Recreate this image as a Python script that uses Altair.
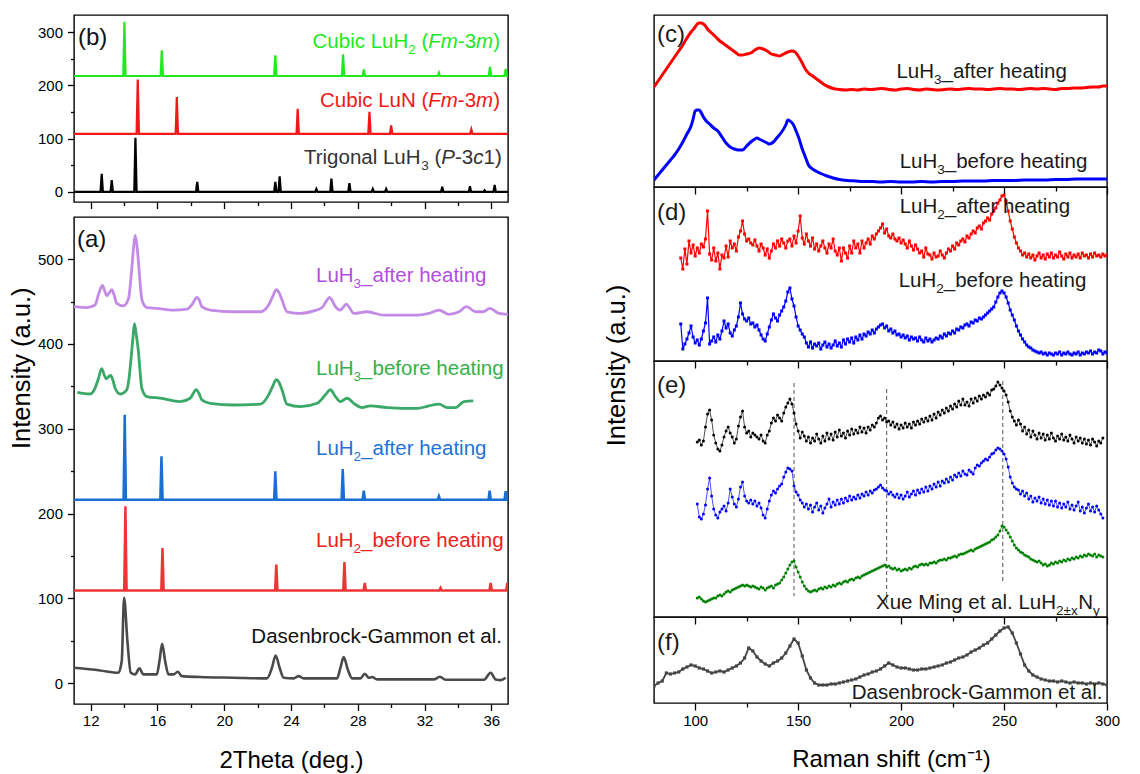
import altair as alt
import pandas as pd

FONT = "Liberation Sans"

# ---------------- (b) reference patterns: peak positions (2theta) and heights ----------------
b_luh2_base = 217.5
b_luh2_pos = [14.02, 16.26, 23.06, 27.12, 28.36, 32.86, 35.92, 36.86]
b_luh2_top = [319.5, 265.8, 256.4, 258.3, 230.0, 223.7, 234.4, 231.0]
b_lun_base = 109.0
b_lun_pos = [14.82, 17.16, 24.40, 28.70, 30.00, 34.80]
b_lun_top = [211.0, 178.0, 156.0, 150.4, 124.8, 117.3]
b_luh3_base = 0.0
b_luh3_pos = [12.66, 13.26, 14.68, 18.38, 23.06, 23.32, 25.52, 26.42, 27.50, 28.90, 29.70, 33.06, 34.72, 35.60, 36.20]
b_luh3_top = [33.8, 22.0, 101.5, 18.8, 18.8, 29.4, 5.6, 25.0, 16.3, 5.6, 5.6, 9.4, 10.6, 3.0, 13.2]

# ---------------- (a) measured XRD ----------------
a_luh2_after_base = 216.3
a_luh2_after_pos = [14.04, 16.24, 23.06, 27.10, 28.36, 32.86, 35.90, 36.86]
a_luh2_after_top = [316.5, 267.5, 249.9, 252.6, 227.1, 220.4, 227.1, 226.3]
a_luh2_before_base = 109.2
a_luh2_before_pos = [14.08, 16.30, 23.12, 27.20, 28.42, 32.96, 35.96, 36.96]
a_luh2_before_top = [208.5, 159.4, 139.7, 142.9, 118.1, 112.2, 118.1, 118.1]

a_luh3_after = [(11.0, 444), (11.76, 443), (12.26, 446), (12.46, 458), (12.7, 469), (12.85, 462),
                (12.96, 457), (13.1, 460), (13.26, 464), (13.4, 458), (13.56, 448), (13.96, 445),
                (14.26, 453), (14.46, 489), (14.56, 512), (14.66, 528), (14.76, 518), (14.86, 497),
                (14.96, 472), (15.06, 453), (15.2, 446), (15.36, 443), (15.96, 442), (16.96, 440),
                (17.76, 441), (18.12, 448), (18.36, 455), (18.5, 452), (18.66, 444), (19.16, 440),
                (20.56, 438), (22.16, 438), (22.66, 446), (22.9, 456), (23.12, 464), (23.3, 460),
                (23.46, 452), (23.76, 438), (24.56, 436), (25.36, 439), (25.86, 443), (26.1, 450),
                (26.32, 455), (26.5, 450), (26.66, 444), (26.96, 440), (27.15, 444), (27.32, 447),
                (27.5, 443), (27.76, 436), (28.56, 438), (29.56, 434), (31.56, 434), (32.26, 436),
                (32.86, 440), (33.46, 435), (34.06, 438), (34.52, 444), (35.06, 438), (35.5, 438),
                (35.92, 442), (36.46, 436), (37.0, 435)]
a_luh3_before = [(11.2, 343), (11.96, 341), (12.26, 348), (12.46, 359), (12.66, 371), (12.8, 364),
                 (12.92, 359), (13.05, 361), (13.2, 363), (13.35, 356), (13.46, 348), (13.76, 341),
                 (14.16, 346), (14.3, 360), (14.4, 379), (14.52, 405), (14.62, 424), (14.72, 412),
                 (14.86, 391), (14.96, 367), (15.06, 348), (15.36, 338), (16.16, 336), (17.36, 332),
                 (17.96, 336), (18.32, 346), (18.5, 341), (18.66, 334), (19.16, 330), (20.56, 328),
                 (22.16, 329), (22.66, 340), (22.9, 350), (23.12, 358), (23.3, 354), (23.46, 346),
                 (23.76, 329), (24.56, 326), (25.56, 330), (26.06, 340), (26.36, 346), (26.66, 338),
                 (26.96, 332), (27.36, 336), (27.76, 330), (28.26, 325), (28.76, 327), (29.76, 325),
                 (31.56, 324), (32.26, 327), (32.86, 329), (33.36, 325), (33.86, 325), (34.36, 332),
                 (34.92, 333)]
a_dasen = [(11.0, 18), (12.56, 14.9), (13.66, 12.2), (13.86, 26), (14.0, 100.5), (14.2, 49.4),
           (14.4, 12.2), (14.66, 10.2), (14.92, 17.3), (15.16, 10.2), (15.96, 10.2), (16.12, 26),
           (16.28, 46.3), (16.46, 26), (16.66, 10.2), (16.96, 10.2), (17.22, 13.3), (17.46, 8.2),
           (18.56, 7.1), (20.56, 6.3), (22.56, 5.5), (22.86, 18), (23.08, 32.6), (23.32, 18),
           (23.56, 6.3), (24.16, 5.5), (24.46, 8.2), (24.76, 5.5), (26.76, 5.5), (26.96, 18),
           (27.16, 30.6), (27.4, 16.1), (27.66, 5.5), (28.16, 5.5), (28.42, 11), (28.66, 6.3),
           (28.86, 7.1), (29.16, 4.3), (32.56, 4.3), (32.92, 7.4), (33.26, 3.9), (35.56, 3.9),
           (35.96, 12.2), (36.26, 4.3), (36.56, 3.5), (36.86, 6.3)]

# ---------------- (c) Raman LuH3 ----------------
c_after = [(80, 97), (82, 103), (84, 109), (86, 115), (88, 121), (90, 127), (92, 133), (94, 139),
           (96, 146), (98, 152), (100, 157), (101, 160), (102, 161), (103, 161), (104, 160), (105, 158),
           (106, 155), (108, 151), (110, 147), (112, 143), (114, 140), (116, 137), (118, 134), (120, 131),
           (121.5, 129), (123, 129), (125, 130), (127, 131), (129, 134), (131, 136), (133, 135), (135, 133),
           (137, 130), (139, 129), (141, 128), (143, 130), (145, 132), (147, 133), (148.5, 132), (150, 128),
           (152, 121), (153.5, 115), (155, 111), (157, 108), (159, 105), (161, 102), (163, 99), (165, 97),
           (167, 95.5), (170, 94.5), (173, 94), (176, 94.5), (179, 94), (182, 95), (185, 94.5), (188, 95),
           (191, 95.5), (194, 94.5), (197, 94), (200, 95), (203, 95.5), (206, 94.5), (209, 94), (212, 95),
           (215, 94.5), (218, 94), (221, 94.5), (224, 95), (227, 94.5), (230, 95), (233, 95.5), (236, 95),
           (239, 95), (242, 94.5), (245, 95), (248, 95.5), (251, 95), (254, 95), (257, 94.5), (260, 95),
           (263, 95.5), (266, 95), (269, 95.5), (272, 95), (275, 94.5), (278, 95.5), (281, 95.5), (284, 96),
           (287, 96), (290, 96.5), (293, 97), (296, 97), (298, 98), (300, 98)]
c_before = [(80, 4), (82, 9), (84, 14), (86, 19), (88, 24), (90, 29), (92, 35), (94, 42), (96, 50),
            (98, 58), (99, 65), (100, 73), (101, 74), (102, 74), (103, 71), (104, 67), (105, 64), (107, 60),
            (109, 56), (111, 53), (113, 47), (115, 41), (117, 37), (119, 35), (121, 34), (123, 34), (125, 38),
            (127, 42), (129, 45), (130, 46), (131, 45), (133, 43), (135, 41), (136, 40), (138, 42), (140, 47),
            (142, 52), (144, 59), (145, 64), (146, 63), (147.5, 60), (149, 53), (150.5, 45), (152, 35),
            (153.5, 27), (155, 19), (157, 15), (159, 12.5), (161, 10.5), (164, 8), (167, 6), (170, 4.5),
            (174, 3.5), (178, 3), (182, 2.5), (186, 2.5), (190, 2), (195, 2.5), (200, 2), (205, 2), (210, 2.5),
            (215, 2), (220, 2.5), (225, 2.5), (230, 3), (235, 3), (240, 3), (245, 3.5), (250, 3.5), (255, 3.5),
            (260, 4), (265, 4), (270, 4), (275, 4.5), (280, 4.5), (285, 5), (290, 5), (295, 5), (300, 5)]

# ---------------- (d) Raman LuH2, sampled at 93..300 cm-1 ----------------
d_start = 93
d_after = [103, 92, 112, 97, 120, 108, 116, 105, 113, 108,
           117, 114, 122, 150, 107, 101, 113, 100, 108, 92,
           106, 103, 115, 104, 120, 113, 117, 110, 124, 130,
           140, 127, 120, 122, 118, 116, 121, 115, 110, 117,
           113, 106, 112, 103, 110, 117, 113, 120, 115, 122,
           118, 113, 120, 122, 115, 125, 118, 130, 145, 123,
           117, 127, 120, 115, 123, 112, 117, 110, 115, 120,
           113, 108, 117, 113, 122, 110, 106, 113, 100, 113,
           108, 103, 115, 108, 120, 113, 117, 108, 120, 113,
           118, 122, 117, 125, 122, 127, 130, 133, 137, 128,
           132, 125, 123, 127, 122, 120, 123, 118, 121, 117,
           113, 120, 115, 111, 116, 112, 108, 110, 104, 113,
           107, 106, 102, 108, 104, 105, 110, 106, 103, 108,
           112, 110, 115, 112, 118, 116, 120, 122, 119, 125,
           123, 127, 130, 128, 133, 135, 132, 138, 140, 143,
           141, 147, 150, 153, 158, 161, 165, 166, 160, 150,
           140, 132, 124, 118, 113, 110, 106, 108, 104, 107,
           103, 106, 101, 105, 108, 103, 106, 102, 107, 104,
           108, 103, 106, 104, 109, 105, 102, 107, 104, 108,
           103, 106, 104, 107, 103, 108, 105, 106, 103, 107,
           104, 108, 105, 106, 104, 107, 105, 106]
d_before = [37, 12, 17, 22, 28, 35, 24, 18, 21, 16,
            22, 30, 38, 63, 17, 20, 24, 19, 26, 22,
            30, 40, 33, 37, 28, 25, 31, 35, 44, 58,
            47, 42, 40, 43, 37, 38, 34, 36, 31, 26,
            22, 20, 27, 34, 41, 47, 43, 40, 46, 50,
            54, 60, 69, 73, 62, 55, 44, 35, 31, 27,
            24, 18, 14, 19, 13, 17, 15, 18, 12, 16,
            19, 14, 17, 13, 16, 20, 15, 18, 14, 21,
            17, 22, 19, 23, 18, 24, 21, 26, 22, 27,
            25, 29, 27, 31, 28, 32, 34, 36, 37, 33,
            35, 30, 32, 28, 30, 26, 27, 24, 26, 23,
            25, 21, 24, 22, 23, 20, 24, 21, 19, 23,
            20, 22, 19, 21, 23, 22, 25, 23, 27, 25,
            28, 27, 30, 28, 32, 31, 34, 33, 36, 37,
            35, 39, 38, 41, 40, 43, 42, 44, 46, 48,
            50, 52, 54, 59, 64, 68, 70, 68, 64, 58,
            51, 46, 41, 35, 30, 26, 22, 19, 16, 14,
            13, 11, 10, 9, 8, 9, 7, 8, 6, 8,
            7, 6, 8, 7, 9, 6, 8, 7, 9, 7,
            6, 8, 7, 9, 6, 8, 7, 9, 8, 10,
            7, 9, 8, 11, 10, 7, 9, 8]

# ---------------- (e) comparison spectra, sampled at 101..298 cm-1 ----------------
e_start = 101
e_black = [175, 177, 172, 176, 190, 203, 207, 197, 182, 174,
           168, 166, 172, 180, 186, 190, 184, 180, 174, 178,
           191, 200, 206, 190, 184, 186, 180, 184, 182, 180,
           178, 182, 176, 174, 182, 186, 194, 199, 196, 202,
           199, 196, 204, 210, 214, 218, 213, 204, 193, 186,
           179, 185, 181, 176, 180, 174, 179, 176, 183, 178,
           174, 181, 176, 184, 178, 183, 177, 185, 180, 187,
           181, 184, 179, 186, 182, 188, 183, 187, 184, 190,
           185, 189, 184, 190, 187, 192, 190, 194, 199, 201,
           197, 199, 195, 196, 192, 195, 190, 193, 188, 192,
           189, 194, 190, 193, 189, 195, 192, 196, 193, 198,
           195, 199, 196, 201, 197, 203, 199, 205, 202, 207,
           204, 209, 206, 211, 208, 213, 210, 216, 212, 218,
           212, 215, 211, 218, 214, 219, 216, 221, 218, 222,
           220, 224, 222, 227, 228, 231, 235, 232, 229, 226,
           222, 215, 206, 200, 196, 192, 197, 193, 186, 190,
           183, 187, 180, 186, 182, 178, 184, 179, 183, 177,
           182, 178, 184, 179, 176, 181, 178, 183, 177, 180,
           176, 182, 178, 174, 180, 176, 179, 174, 178, 173,
           177, 172, 178, 175, 171, 176, 174, 179]
e_blue = [113, 100, 98, 103, 112, 128, 139, 121, 108, 102,
          99, 105, 108, 111, 106, 114, 128, 120, 113, 110,
          118, 130, 135, 121, 116, 114, 117, 113, 116, 111,
          114, 109, 102, 99, 108, 116, 122, 126, 124, 128,
          131, 133, 140, 145, 149, 148, 146, 131, 125, 122,
          117, 114, 110, 113, 108, 112, 105, 110, 114, 107,
          111, 104, 109, 113, 118, 110, 115, 112, 117, 113,
          118, 114, 119, 116, 121, 117, 120, 118, 122, 119,
          123, 121, 125, 122, 126, 124, 127, 128, 130, 132,
          129, 127, 126, 123, 125, 122, 120, 123, 119, 122,
          118, 121, 125, 120, 123, 126, 122, 127, 124, 128,
          125, 130, 126, 131, 128, 133, 130, 135, 131, 136,
          134, 138, 135, 140, 137, 142, 140, 144, 141, 146,
          143, 142, 147, 145, 143, 149, 152, 151, 154, 156,
          158, 157, 160, 163, 164, 167, 169, 168, 166, 163,
          158, 150, 140, 134, 130, 128, 127, 123, 126, 121,
          124, 118, 121, 115, 119, 116, 120, 114, 118, 113,
          117, 112, 116, 111, 116, 110, 114, 109, 113, 110,
          115, 108, 112, 107, 111, 115, 106, 110, 104, 109,
          113, 106, 110, 105, 111, 107, 103, 99]
e_green = [19, 20, 18, 16, 15, 16, 17, 18, 19, 19,
           21, 22, 21, 23, 25, 26, 25, 27, 28, 29,
           30, 31, 32, 31, 32, 31, 30, 31, 30, 29,
           28, 30, 29, 27, 29, 30, 31, 29, 32, 33,
           34, 37, 40, 44, 48, 52, 55, 56, 50, 45,
           40, 35, 31, 28, 26, 25, 26, 27, 26, 28,
           29, 28, 30, 29, 31, 30, 32, 31, 33, 34,
           33, 35, 36, 35, 37, 38, 37, 39, 40, 39,
           41, 42, 43, 44, 45, 46, 47, 48, 49, 50,
           51, 52, 50, 51, 49, 48, 49, 47, 48, 46,
           47, 48, 47, 49, 48, 50, 51, 50, 52, 53,
           52, 53, 52, 54, 54, 55, 54, 56, 57, 57,
           58, 57, 59, 59, 60, 61, 60, 62, 63, 63,
           64, 65, 66, 67, 66, 68, 69, 70, 71, 72,
           73, 74, 75, 77, 78, 80, 82, 86, 91, 90,
           87, 84, 80, 76, 72, 69, 67, 65, 64, 62,
           61, 60, 58, 57, 56, 55, 56, 54, 52, 53,
           51, 52, 54, 53, 55, 54, 56, 55, 57, 56,
           58, 57, 59, 58, 60, 59, 61, 60, 62, 61,
           63, 62, 61, 63, 60, 62, 61, 60]
e_guide_x = [148.0, 193.0, 249.4]
e_guide_top = [234, 228, 236]
e_guide_bottom = [21, 9, 36]

# ---------------- (f) Dasenbrock-Gammon Raman, sampled every 2 cm-1 from 80 ----------------
f_start = 80
f_step = 2
f_vals = [17, 20, 22, 30, 29, 30, 31, 34, 36, 38,
          37, 35, 34, 32, 30, 31, 32, 31, 33, 35,
          37, 40, 45, 55, 52, 46, 42, 39, 37, 40,
          42, 45, 50, 57, 64, 60, 47, 33, 25, 20,
          18, 18, 18, 19, 19, 20, 21, 22, 23, 24,
          26, 28, 29, 31, 32, 34, 37, 40, 38, 36,
          35, 35, 34, 33, 33, 34, 34, 35, 36, 37,
          38, 40, 41, 43, 45, 46, 48, 51, 53, 55,
          58, 60, 64, 68, 72, 75, 76, 70, 60, 49,
          38, 32, 28, 26, 24, 23, 22, 22, 21, 22,
          21, 20, 21, 20, 20, 19, 20, 19, 20, 19,
          18]

# ---------------- helpers ----------------
AW = {' ': 278, '(': 333, ')': 333, '-': 333, '.': 278, '_': 556, '±': 584,
      'A': 667, 'B': 667, 'C': 722, 'D': 722, 'E': 667, 'F': 611, 'G': 778, 'H': 722, 'I': 278,
      'L': 556, 'M': 833, 'N': 722, 'P': 667, 'T': 611, 'X': 667,
      'a': 556, 'b': 556, 'c': 500, 'd': 556, 'e': 556, 'f': 278, 'g': 556, 'h': 556, 'i': 222,
      'k': 500, 'l': 222, 'm': 833, 'n': 556, 'o': 556, 'r': 333, 's': 500, 't': 278, 'u': 556,
      'x': 500, 'y': 500}


def tw(s, size):
    return sum(AW.get(ch, 556) for ch in s) * size / 1000.0


MAIN, SUB, SUBDY = 20.5, 13.5, 6.0


def rich(parts, anchor, cap, align, color, main=MAIN):
    sizes = [SUB if k == 's' else main for _, k in parts]
    total = sum(tw(t, s) for (t, _), s in zip(parts, sizes))
    x = anchor - total if align == 'right' else anchor
    base = cap + 0.358 * main
    rows = []
    for (t, k), s in zip(parts, sizes):
        lead = len(t) - len(t.lstrip(' '))
        rows.append(dict(t=t.strip(' '), px=x + tw(' ' * lead, s), py=base + (SUBDY if k == 's' else 0),
                         fs=s, it=(k == 'i'), col=color))
        x += tw(t, s)
    return rows


def sticks(pos, top, base, x0=10.8, x1=37.3, hw=0.07):
    pts = [(x0, base)]
    for p, t in zip(pos, top):
        pts += [(p - hw, base), (p, t), (p + hw, base)]
    pts.append((x1, base))
    return pts


def cond(test, a, b):
    return {"condition": {"test": test, "value": a}, "value": b}


def panel(w, h, xdom, ydom, xaxis, yaxis, lines=(), points=(), rules=None, texts=()):
    X = alt.X("x:Q", scale=alt.Scale(domain=xdom, nice=False, zero=False), axis=xaxis)
    Y = alt.Y("y:Q", scale=alt.Scale(domain=ydom, nice=False, zero=False), axis=yaxis)
    layers = []
    if rules is not None:
        layers.append(alt.Chart(rules).mark_rule(color="#555555", strokeWidth=1, strokeDash=[4, 3])
                      .encode(x=X, y=Y, y2="y2:Q"))
    for pts, color, sw, interp in lines:
        df = pd.DataFrame(pts, columns=["x", "y"])
        layers.append(alt.Chart(df).mark_line(color=color, strokeWidth=sw, interpolate=interp, clip=True)
                      .encode(x=X, y=Y))
    for pts, color, shape, size in points:
        df = pd.DataFrame(pts, columns=["x", "y"])
        layers.append(alt.Chart(df).mark_point(shape=shape, filled=True, size=size, color=color,
                                               opacity=1, clip=True).encode(x=X, y=Y))
    rows = [dict(r) for r in texts]
    for r in rows:
        r["x"] = xdom[0] + r["px"] / w * (xdom[1] - xdom[0])
        r["y"] = ydom[1] - r["py"] / h * (ydom[1] - ydom[0])
    tdf = pd.DataFrame(rows)
    for italic in (False, True):
        sub = tdf[tdf["it"] == italic]
        if len(sub):
            kw = {"fontStyle": "italic"} if italic else {}
            layers.append(alt.Chart(sub).mark_text(align="left", baseline="alphabetic", font=FONT, **kw)
                          .encode(x=X, y=Y, text="t:N", size=alt.Size("fs:Q", scale=None),
                                  color=alt.Color("col:N", scale=None)))
    return alt.layer(*layers).properties(width=w, height=h)


# ---------------- left column ----------------
LW = 434
XL = [11, 37]
xl_vals = list(range(12, 37, 2))
xl_tick = cond("datum.value % 4 === 0", 6.5, 3.5)

b_y = [-19, 332]
b_texts = (rich([("(b)", 'n')], 4, 21, 'left', "#111111", main=24)
           + rich([("Cubic LuH", 'n'), ("2", 's'), (" (", 'n'), ("Fm", 'i'), ("-3", 'n'), ("m", 'i'), (")", 'n')],
                  426, 26, 'right', "#22e822")
           + rich([("Cubic LuN (", 'n'), ("Fm", 'i'), ("-3", 'n'), ("m", 'i'), (")", 'n')],
                  426, 84.5, 'right', "#f01818")
           + rich([("Trigonal LuH", 'n'), ("3", 's'), (" (", 'n'), ("P", 'i'), ("-3", 'n'), ("c", 'i'), ("1)", 'n')],
                  427.7, 142, 'right', "#333333"))
panel_b = panel(
    LW, 187, XL, b_y,
    alt.Axis(values=xl_vals, labels=False, title=None, tickSize=xl_tick),
    alt.Axis(values=list(range(0, 301, 50)), labelExpr="datum.value % 100 === 0 ? datum.label : ''",
             tickSize=cond("datum.value % 100 === 0", 6.5, 3.5), labelPadding=5, title=None),
    lines=[(sticks(b_luh3_pos, b_luh3_top, b_luh3_base), "#000000", 2.2, "linear"),
           (sticks(b_lun_pos, b_lun_top, b_lun_base), "#f01818", 2.2, "linear"),
           (sticks(b_luh2_pos, b_luh2_top, b_luh2_base), "#22e822", 2.2, "linear")],
    texts=b_texts)

a_y = [-24.7, 549.8]
a_texts = (rich([("(a)", 'n')], 3, 21, 'left', "#111111", main=24)
           + rich([("LuH", 'n'), ("3", 's'), ("_after heating", 'n')], 242, 57.5, 'left', "#b34ee0")
           + rich([("LuH", 'n'), ("3", 's'), ("_before heating", 'n')], 242, 151, 'left', "#34b04c")
           + rich([("LuH", 'n'), ("2", 's'), ("_after heating", 'n')], 242, 231, 'left', "#1f72d6")
           + rich([("LuH", 'n'), ("2", 's'), ("_before heating", 'n')], 242, 322.5, 'left', "#ee2020")
           + rich([("Dasenbrock-Gammon et al.", 'n')], 428, 419, 'right', "#111111"))
panel_a = panel(
    LW, 487, XL, a_y,
    alt.Axis(values=xl_vals, labelExpr="datum.value % 4 === 0 ? datum.label : ''", tickSize=xl_tick,
             labelFlush=False, labelOverlap=False, labelPadding=3, title="2Theta (deg.)", titleFontSize=24,
             titleY=56, titleBaseline="middle"),
    alt.Axis(values=list(range(0, 501, 50)), labelExpr="datum.value % 100 === 0 ? datum.label : ''",
             tickSize=cond("datum.value % 100 === 0", 6.5, 3.5), labelPadding=5,
             title="Intensity (a.u.)", titleFontSize=25.5, titleX=-53, titleY=150.7, titleAngle=270,
             titleAlign="center", titleBaseline="middle"),
    lines=[(a_dasen, "#4a4a4a", 2.6, "monotone"),
           (sticks(a_luh2_before_pos, a_luh2_before_top, a_luh2_before_base), "#ee3535", 2.5, "linear"),
           (sticks(a_luh2_after_pos, a_luh2_after_top, a_luh2_after_base), "#1a6fd4", 2.5, "linear"),
           (a_luh3_before, "#3aa866", 2.8, "monotone"),
           (a_luh3_after, "#c38ae6", 2.8, "monotone")],
    texts=a_texts)

# ---------------- right column ----------------
RW = 453
XR = [80, 300]
xr_vals = list(range(100, 301, 25))
xr_tick = cond("datum.value % 50 === 0", 7, 4)
xr_axis_nolab = alt.Axis(values=xr_vals, labels=False, title=None, tickSize=xr_tick)
TXT = "#1a1a1a"

panel_c = panel(
    RW, 172, XR, [-3, 169], xr_axis_nolab, None,
    lines=[(c_after, "#ff0000", 3, "monotone"), (c_before, "#0000ff", 3, "monotone")],
    texts=(rich([("(c)", 'n')], 3, 18.5, 'left', TXT, main=24)
           + rich([("LuH", 'n'), ("3", 's'), ("_after heating", 'n')], 242.4, 55.3, 'left', TXT)
           + rich([("LuH", 'n'), ("3", 's'), ("_before heating", 'n')], 245.7, 146, 'left', TXT)))

d_x = list(range(d_start, d_start + len(d_after)))
d_red = list(zip(d_x, d_after))
d_blue = list(zip(d_x, d_before))
panel_d = panel(
    RW, 174, XR, [0, 174], xr_axis_nolab, None,
    lines=[(d_red, "#ff0000", 1.2, "linear"), (d_blue, "#0000ff", 1.2, "linear")],
    points=[(d_red, "#ff0000", "square", 9), (d_blue, "#0000ff", "square", 9)],
    texts=(rich([("(d)", 'n')], 3, 24.8, 'left', TXT, main=24)
           + rich([("LuH", 'n'), ("2", 's'), ("_after heating", 'n')], 245.7, 19, 'left', TXT)
           + rich([("LuH", 'n'), ("2", 's'), ("_before heating", 'n')], 244.7, 92.5, 'left', TXT)))

e_x = list(range(e_start, e_start + len(e_black)))
e_k = list(zip(e_x, e_black))
e_b = list(zip(e_x, e_blue))
e_g = list(zip(e_x, e_green))
guides = pd.DataFrame({"x": e_guide_x, "y": e_guide_top, "y2": e_guide_bottom})
panel_e = panel(
    RW, 256, XR, [0, 256], xr_axis_nolab,
    alt.Axis(title="Intensity (a.u.)", labels=False, ticks=False, titleFontSize=25.5, titleX=-38, titleY=4,
             titleAngle=270, titleAlign="center", titleBaseline="middle"),
    lines=[(e_k, "#000000", 0.7, "linear"), (e_b, "#0000ff", 0.7, "linear"), (e_g, "#008000", 0.7, "linear")],
    points=[(e_k, "#000000", "circle", 9), (e_b, "#0000ff", "circle", 9), (e_g, "#008000", "circle", 9)],
    rules=guides,
    texts=(rich([("(e)", 'n')], 3, 23, 'left', TXT, main=24)
           + rich([("Xue Ming et al. LuH", 'n'), ("2±x", 's'), ("N", 'n'), ("y", 's')], 445.7, 240.5,
                  'right', TXT)))

f_pts = [(f_start + f_step * i, v) for i, v in enumerate(f_vals)]
panel_f = panel(
    RW, 86, XR, [0, 86],
    alt.Axis(values=xr_vals, labelExpr="datum.value % 50 === 0 ? datum.label : ''", tickSize=xr_tick,
             labelFlush=False, labelOverlap=False, labelPadding=3, title="Raman shift (cm⁻¹)",
             titleFontSize=24, titleX=237, titleY=56, titleBaseline="middle"),
    None,
    lines=[(f_pts, "#444444", 1.8, "linear")],
    points=[(f_pts, "#444444", "square", 10)],
    texts=(rich([("(f)", 'n')], 3, 24.8, 'left', TXT, main=24)
           + rich([("Dasenbrock-Gammon et al.", 'n')], 448.4, 74.5, 'right', TXT)))

left = alt.vconcat(panel_b, panel_a, spacing=15, bounds="flush")
right = alt.vconcat(panel_c, panel_d, panel_e, panel_f, spacing=0, bounds="flush")

chart = (alt.hconcat(left, right, spacing=94, bounds="full")
         .properties(padding={"left": 8, "top": 14, "right": 10, "bottom": 0}, background="white")
         .configure_view(stroke="black", strokeWidth=1.4)
         .configure_axis(labelFont=FONT, labelFontSize=15, labelColor="black", tickColor="black",
                         tickWidth=1.3, titleFont=FONT, titleFontWeight="normal", titleColor="black",
                         domain=False, grid=False))

chart.save("out.html", embed_options={"renderer": "svg", "actions": False})
